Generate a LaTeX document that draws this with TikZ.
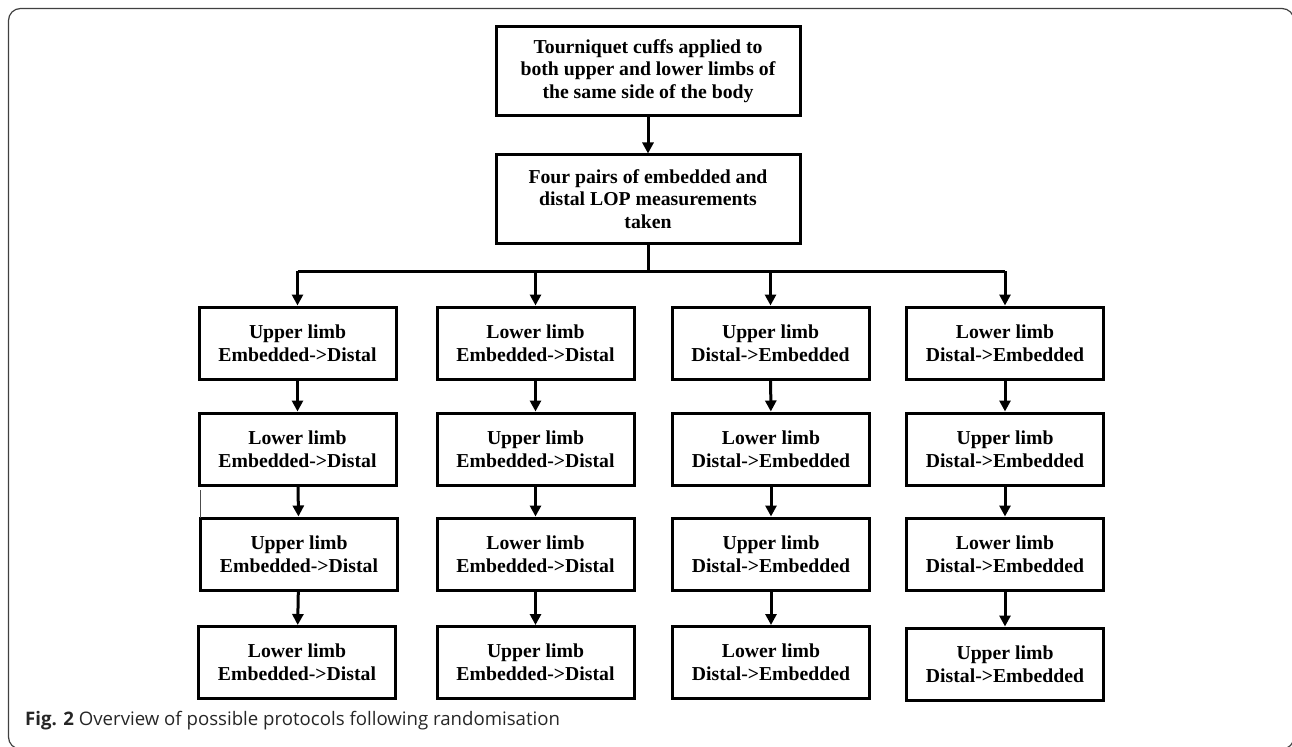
\documentclass[tikz,border=0pt]{standalone}
\usepackage{fontspec}
\setmainfont{Liberation Serif}
\newfontfamily\capfont{Open Sans}
\usetikzlibrary{arrows.meta}
\begin{document}
\begin{tikzpicture}[x=1bp,y=-1bp,
  box/.style={draw, line width=3bp, minimum width=197bp, minimum height=72bp, inner sep=0pt, align=center, font=\fontsize{19.8}{23}\selectfont\bfseries},
  bigbox/.style={box, minimum width=304bp, minimum height=88bp, font=\fontsize{19.8}{22.3}\selectfont\bfseries},
  conn/.style={line width=3bp},
  arr/.style={conn, -{Triangle[width=11bp,length=11bp]}},
  frame/.style={line width=1.2bp, black!75, rounded corners=12bp},
  caption/.style={anchor=base west, inner sep=0pt, text=black!85, font=\capfont\fontsize{18.7}{22}\selectfont}]
\useasboundingbox (0,0) rectangle (1292,747);
\draw[frame] (8.5,8.5) rectangle (1294,749);

\node[bigbox] (top) at (648,71) {Tourniquet cuffs applied to\\both upper and lower limbs of\\the same side of the body};
\node[bigbox] (four) at (648,199) {Four pairs of embedded and\\distal LOP measurements\\taken};
\draw[arr] (top) -- (four);

% column 1
\node[box] (a1) at (297.5,343) {Upper limb\\Embedded->Distal};
\node[box] (a2) at (297.5,449) {Lower limb\\Embedded->Distal};
\node[box] (a3) at (299,554) {Upper limb\\Embedded->Distal};
\node[box] (a4) at (297,662.5) {Lower limb\\Embedded->Distal};
% column 2
\node[box] (b1) at (535.5,343) {Lower limb\\Embedded->Distal};
\node[box] (b2) at (535.5,449) {Upper limb\\Embedded->Distal};
\node[box] (b3) at (535.5,554) {Lower limb\\Embedded->Distal};
\node[box] (b4) at (535.5,662.5) {Upper limb\\Embedded->Distal};
% column 3
\node[box] (c1) at (770.5,343) {Upper limb\\Distal->Embedded};
\node[box] (c2) at (771,449) {Lower limb\\Distal->Embedded};
\node[box] (c3) at (771,554) {Upper limb\\Distal->Embedded};
\node[box] (c4) at (771,662.5) {Lower limb\\Distal->Embedded};
% column 4
\node[box] (d1) at (1005,343) {Lower limb\\Distal->Embedded};
\node[box] (d2) at (1005,449) {Upper limb\\Distal->Embedded};
\node[box] (d3) at (1005,554) {Lower limb\\Distal->Embedded};
\node[box] (d4) at (1005,664) {Upper limb\\Distal->Embedded};

\coordinate (hub) at (648,271);
\draw[conn] (four.south) -- (hub);
\draw[conn] (a1.north |- hub) -- (d1.north |- hub);
\foreach \n in {a1,b1,c1,d1}{\draw[arr] (\n.north |- hub) -- (\n.north);}
\foreach \c in {a,b,c,d}{
  \draw[arr] (\c1) -- (\c2);
  \draw[arr] (\c2) -- (\c3);
  \draw[arr] (\c3) -- (\c4);
}
\draw[line width=0.8bp, black!70] (200,490) -- (200,518);

\node[caption] (cap) at (25,725) {\textbf{Fig. 2} Overview of possible protocols following randomisation};
\end{tikzpicture}
\end{document}
